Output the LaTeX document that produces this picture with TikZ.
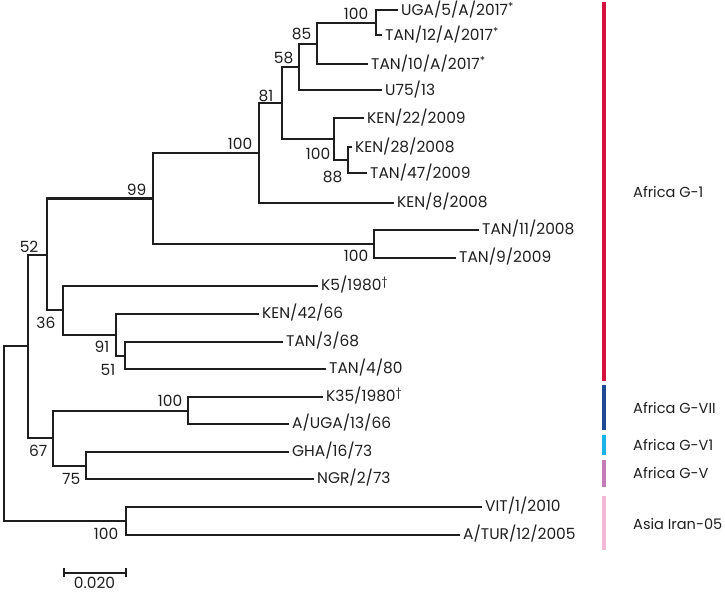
\documentclass[tikz,border=0pt]{standalone}
\usepackage{fontspec}
\usepackage{xcolor}
\usepackage{tikz}
\usetikzlibrary{positioning}
\newfontfamily\treefont{Poppins}
\definecolor{ink}{HTML}{1E1E1E}
\definecolor{cladeone}{HTML}{D6123F}
\definecolor{cladeseven}{HTML}{1D4A94}
\definecolor{cladesix}{HTML}{1AB4E8}
\definecolor{cladefive}{HTML}{C47DB7}
\definecolor{cladeiran}{HTML}{F4B8D4}

\begin{document}
\begin{tikzpicture}[
  x=1bp,y=-1bp,
  branch/.style={draw=ink,line width=2bp},
  leaf/.style={anchor=west,inner xsep=3.5pt,inner ysep=0pt,text height=11pt,text depth=0pt,font=\treefont\fontsize{15.5}{17}\selectfont,text=ink},
  boot/.style={inner sep=0pt,text height=11pt,text depth=0pt,font=\treefont\fontsize{15.5}{17}\selectfont,text=ink},
  clade/.style={line width=4.5bp},
  cladename/.style={anchor=west,inner sep=0pt,font=\treefont\fontsize{14.6}{16}\selectfont,text=ink}
]
\useasboundingbox (0,0) rectangle (725,594);

\begin{scope}[shift={(0.5,0.5)}]
% internal nodes
\coordinate (root) at (3,432);
\coordinate (nA) at (27,345);
\coordinate (n52) at (46,254);
\coordinate (n99) at (152,198);
\coordinate (n100c) at (258,153);
\coordinate (n81) at (281,103);
\coordinate (n58) at (298,67);
\coordinate (n85) at (316,44);
\coordinate (n100a) at (375,23);
\coordinate (n100b) at (333,139);
\coordinate (n88) at (347,160);
\coordinate (n100d) at (373,243);
\coordinate (n36) at (62,309);
\coordinate (n91) at (115,334);
\coordinate (n51) at (124,355);
\coordinate (n67) at (52,437);
\coordinate (n100e) at (187,410);
\coordinate (n75) at (85,465);
\coordinate (n100f) at (125,520);

% leaves
\node[leaf] (uga5) at (397,10) {UGA/5/A/2017\textsuperscript{*}};
\node[leaf] (tan12) at (381,35) {TAN/12/A/2017\textsuperscript{*}};
\node[leaf] (tan10) at (367,64) {TAN/10/A/2017\textsuperscript{*}};
\node[leaf] (u75) at (381,90) {U75/13};
\node[leaf] (ken22) at (363,118) {KEN/22/2009};
\node[leaf] (ken28) at (351,147) {KEN/28/2008};
\node[leaf] (tan47) at (366,173) {TAN/47/2009};
\node[leaf] (ken8) at (393,202) {KEN/8/2008};
\node[leaf] (tan11) at (478,229) {TAN/11/2008};
\node[leaf] (tan9) at (455,257) {TAN/9/2009};
\node[leaf] (k5) at (317,285) {K5/1980\textsuperscript{†}};
\node[leaf] (ken42) at (258,313) {KEN/42/66};
\node[leaf] (tan3) at (282,341) {TAN/3/68};
\node[leaf] (tan4) at (325,368) {TAN/4/80};
\node[leaf] (k35) at (322,396) {K35/1980\textsuperscript{†}};
\node[leaf] (auga) at (288,423) {A/UGA/13/66};
\node[leaf] (gha) at (288,451) {GHA/16/73};
\node[leaf] (ngr) at (313,478) {NGR/2/73};
\node[leaf] (vit) at (481,506) {VIT/1/2010};
\node[leaf] (atur) at (459,534) {A/TUR/12/2005};

% branches
\draw[branch] (nA) -| (root) |- (n100f);
\draw[branch] (n52) -| (nA) |- (n67);
\draw[branch] (n99) -| (n52) |- (n36);
\draw[branch] (n100c) -| (n99) |- (n100d);
\draw[branch] (n81) -| (n100c) |- (ken8.west);
\draw[branch] (n58) -| (n81) |- (n100b);
\draw[branch] (n85) -| (n58) |- (u75.west);
\draw[branch] (n100a) -| (n85) |- (tan10.west);
\draw[branch] (uga5.west) -| (n100a) |- (tan12.west);
\draw[branch] (ken22.west) -| (n100b) |- (n88);
\draw[branch] (ken28.west) -| (n88) |- (tan47.west);
\draw[branch] (tan11.west) -| (n100d) |- (tan9.west);
\draw[branch] (k5.west) -| (n36) |- (n91);
\draw[branch] (ken42.west) -| (n91) |- (n51);
\draw[branch] (tan3.west) -| (n51) |- (tan4.west);
\draw[branch] (n100e) -| (n67) |- (n75);
\draw[branch] (k35.west) -| (n100e) |- (auga.west);
\draw[branch] (gha.west) -| (n75) |- (ngr.west);
\draw[branch] (vit.west) -| (n100f) |- (atur.west);

% bootstrap values
\node[boot,above left=3.5pt and 7pt of n100a] (b100a) {100};
\node[boot,above left=4.5pt and 5pt of n85] (b85) {85};
\node[boot,above left=4pt and 5pt of n58] (b58) {58};
\node[boot,above left=2pt and 8pt of n81] (b81) {81};
\node[boot,above left=3.5pt and 6pt of n100c] (b100c) {100};
\node[boot,above left=3pt and 6pt of n99] (b99) {99};
\node[boot,above left=2pt and 8pt of n52] (b52) {52};
\node[boot,below left=9pt and 3pt of n100b] (b100b) {100};
\node[boot,below left=11pt and 5pt of n88] (b88) {88};
\node[boot,below left=7pt and 5pt of n100d] (b100d) {100};
\node[boot,below left=8pt and 7pt of n36] (b36) {36};
\node[boot,below left=7pt and 6pt of n91] (b91) {91};
\node[boot,below left=8.5pt and 9pt of n51] (b51) {51};
\node[boot,above left=4pt and 5pt of n100e] (b100e) {100};
\node[boot,below left=8pt and 5pt of n67] (b67) {67};
\node[boot,below left=7.5pt and 5pt of n75] (b75) {75};
\node[boot,below left=8pt and 7pt of n100f] (b100f) {100};

% scale bar
\coordinate (sbl) at (63,572);
\coordinate (sbr) at (125,572);
\coordinate (sbm) at (94,572);
\draw[branch] (sbl) -- (sbr);
\draw[branch] ([yshift=4.5pt]sbl) -- ([yshift=-4.5pt]sbl);
\draw[branch] ([yshift=4.5pt]sbr) -- ([yshift=-4.5pt]sbr);
\node[boot,below=4.5pt of sbm] (sblabel) {0.020};
\end{scope}

% clade bars
\coordinate (g1t) at (604,2);    \coordinate (g1b) at (604,381);
\coordinate (g7t) at (604,385);  \coordinate (g7b) at (604,430);
\coordinate (g6t) at (604,435);  \coordinate (g6b) at (604,455);
\coordinate (g5t) at (604,460);  \coordinate (g5b) at (604,487);
\coordinate (irt) at (604,496);  \coordinate (irb) at (604,550);
\draw[clade,cladeone] (g1t) -- (g1b);
\draw[clade,cladeseven] (g7t) -- (g7b);
\draw[clade,cladesix] (g6t) -- (g6b);
\draw[clade,cladefive] (g5t) -- (g5b);
\draw[clade,cladeiran] (irt) -- (irb);
\node[cladename] (g1) at (633,192) {Africa G-1};
\node[cladename] (g7) at (633,408) {Africa G-VII};
\node[cladename] (g6) at (633,445) {Africa G-V1};
\node[cladename] (g5) at (633,473) {Africa G-V};
\node[cladename] (ir) at (633,524) {Asia Iran-05};
\end{tikzpicture}
\end{document}
